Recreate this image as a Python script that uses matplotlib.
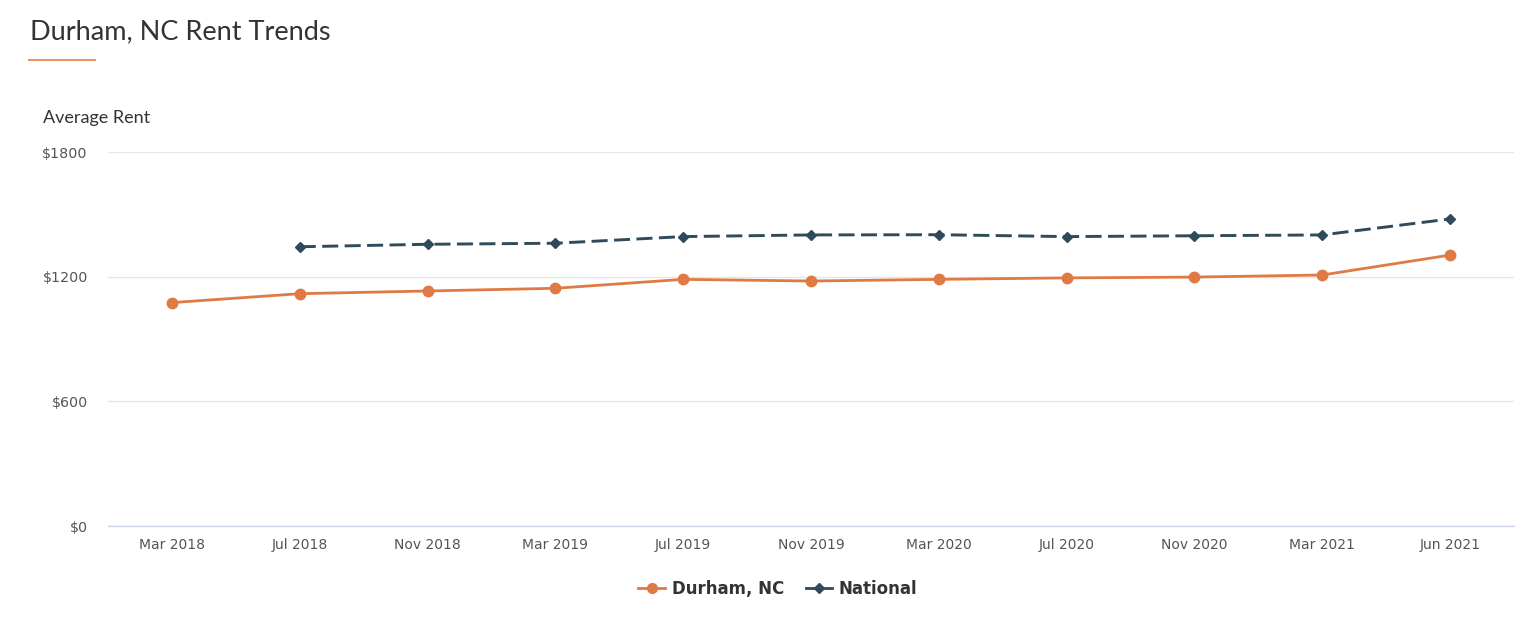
import os
import matplotlib
matplotlib.use("Agg")
import matplotlib.pyplot as plt
from matplotlib.lines import Line2D
from matplotlib.font_manager import FontProperties

ttf_dir = os.path.join(matplotlib.get_data_path(), "fonts", "ttf")
DV = os.path.join(ttf_dir, "DejaVuSans.ttf")
DVB = os.path.join(ttf_dir, "DejaVuSans-Bold.ttf")

months = ["Mar 2018", "Jul 2018", "Nov 2018", "Mar 2019", "Jul 2019", "Nov 2019",
          "Mar 2020", "Jul 2020", "Nov 2020", "Mar 2021", "Jun 2021"]
durham = [1076, 1119, 1132, 1145, 1188, 1180, 1188, 1195, 1199, 1209, 1305]
national = [None, 1345, 1357, 1362, 1394, 1402, 1403, 1394, 1398, 1402, 1479]
y_ticks = [0, 600, 1200, 1800]
y_tick_labels = ["$0", "$600", "$1200", "$1800"]

ORANGE = "#e07a45"
SLATE = "#2f4a5a"

fig = plt.figure(figsize=(15.36, 6.26), dpi=100)
fig.patch.set_facecolor("white")

W, H = 1536, 626
left, right = 108 / W, 1514 / W
bottom, top = 1 - 526 / H, 1 - 152.3 / H
ax = fig.add_axes([left, bottom, right - left, top - bottom])

x = list(range(len(months)))
ax.plot(x, durham, color=ORANGE, lw=2.0, marker="o", ms=7.5, zorder=3)
nx = [i for i, v in zip(x, national) if v is not None]
ny = [v for v in national if v is not None]
ax.plot(nx, ny, color=SLATE, lw=2.1, marker="D", ms=5.5, dashes=(5.5, 2.2), zorder=3)

ax.set_xlim(-0.5, len(months) - 0.5)
ax.set_ylim(0, 1800)
ax.grid(axis="y", color="#e6e6e6", lw=1.0)
ax.set_axisbelow(True)
for s in ["top", "right", "left"]:
    ax.spines[s].set_visible(False)
ax.spines["bottom"].set_color("#ccd6eb")
ax.spines["bottom"].set_linewidth(1.0)
ax.tick_params(axis="both", length=0)
ax.tick_params(axis="x", pad=16.8)
ax.tick_params(axis="y", pad=14.5)
ax.set_yticks(y_ticks)
ax.set_yticklabels(y_tick_labels, fontproperties=FontProperties(fname=DV, size=10.3),
                   color="#555555")
ax.set_xticks(x)
ax.set_xticklabels(months, fontproperties=FontProperties(fname=DV, size=10),
                   color="#555555", va="baseline")

fig.text(30 / W, 1 - 32 / H, "Durham, NC Rent Trends", fontsize=19.5, color="#333333",
         family="Lato", va="center", ha="left")
fig.add_artist(Line2D([29 / W, 95 / W], [1 - 60 / H, 1 - 60 / H], color="#e8956a", lw=1.5))
fig.text(43 / W, 1 - 118 / H, "Average Rent", fontsize=13, color="#333333",
         family="Lato", va="center", ha="left")

handles = [
    Line2D([], [], color=ORANGE, lw=2, marker="o", ms=7),
    Line2D([], [], color=SLATE, lw=2, marker="D", ms=5),
]
leg = fig.legend(handles, ["Durham, NC", "National"], loc="center",
                 bbox_to_anchor=(778 / W, 1 - 589 / H), ncol=2, frameon=False,
                 prop=FontProperties(fname=DVB, size=12),
                 handlelength=1.6, handletextpad=0.4, columnspacing=1.3)
for t in leg.get_texts():
    t.set_color("#333333")

fig.savefig("out.png", dpi=100, facecolor="white")
